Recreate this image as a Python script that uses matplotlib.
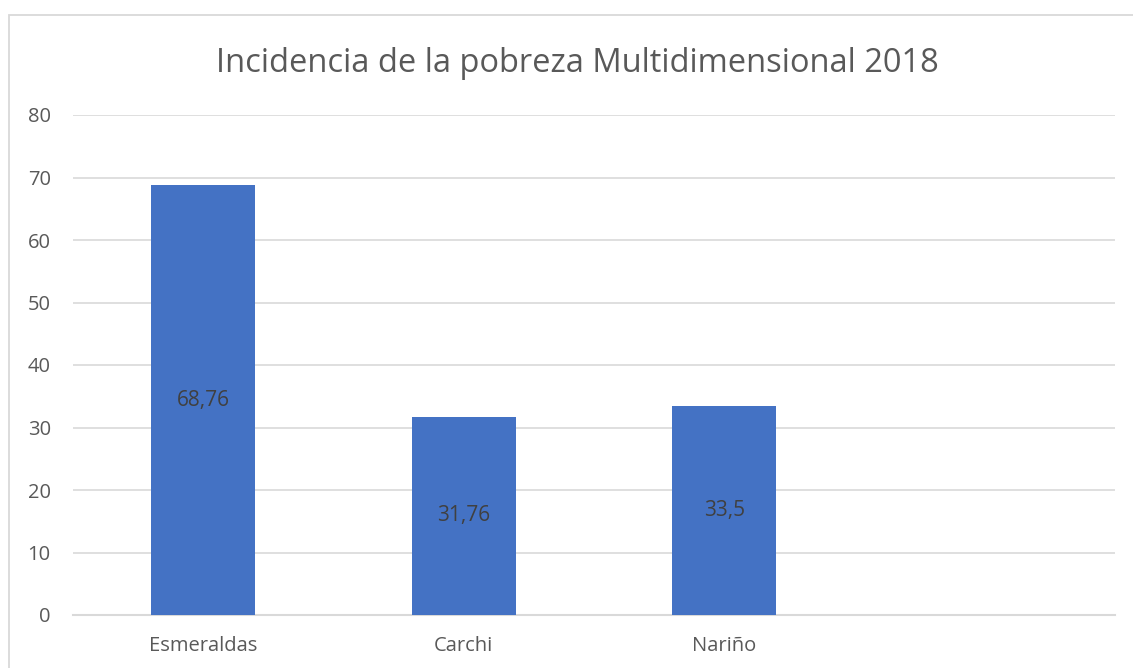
import matplotlib
matplotlib.use("Agg")
import matplotlib.pyplot as plt
from matplotlib.patches import Rectangle

categories = ["Esmeraldas", "Carchi", "Nariño", ""]
values = [68.76, 31.76, 33.5, None]
labels = ["68,76", "31,76", "33,5", ""]
yticks = [0, 10, 20, 30, 40, 50, 60, 70, 80]
title = "Incidencia de la pobreza Multidimensional 2018"

plt.rcParams['font.family'] = ['Open Sans', 'DejaVu Sans']

W, H = 1133, 668
fig = plt.figure(figsize=(W/100, H/100), dpi=100)
fig.patch.set_facecolor("white")

# outer chart border
fig.add_artist(Rectangle((9/W, -0.1), 1.2, (H-15)/H + 0.1, transform=fig.transFigure,
                         fill=False, edgecolor="#d9d9d9", linewidth=1.3))

ax = fig.add_axes([73/W, 1-615/H, (1115-73)/W, (615-115)/H])
xs = list(range(len(categories)))
plot_x = [x for x, v in zip(xs, values) if v is not None]
plot_v = [v for v in values if v is not None]
bars = ax.bar(plot_x, plot_v, width=0.4, color="#4472C4", zorder=3)
for b, lab in zip(bars, labels):
    ax.text(b.get_x() + b.get_width()/2, b.get_height()/2, lab, ha="center", va="center",
            color="#404040", fontsize=15)

ax.set_xlim(-0.5, len(categories) - 0.5)
ax.set_ylim(0, 80)
ax.set_yticks(yticks)
ax.set_yticklabels([str(t) for t in yticks])
ax.set_xticks(xs)
ax.set_xticklabels(categories)
ax.tick_params(axis="both", length=0, colors="#595959", labelsize=14.5)
ax.tick_params(axis="y", pad=16)
ax.tick_params(axis="x", pad=15)
ax.grid(axis="y", color="#d9d9d9", linewidth=1.2, zorder=0)
for s in ["left", "right", "top"]:
    ax.spines[s].set_visible(False)
ax.spines["bottom"].set_color("#d9d9d9")
ax.spines["bottom"].set_linewidth(1.5)
ax.set_facecolor("none")

fig.text(577/W, 1-64/H, title, ha="center", va="center", fontsize=23.5, color="#595959")

fig.savefig("out.png", dpi=100)
